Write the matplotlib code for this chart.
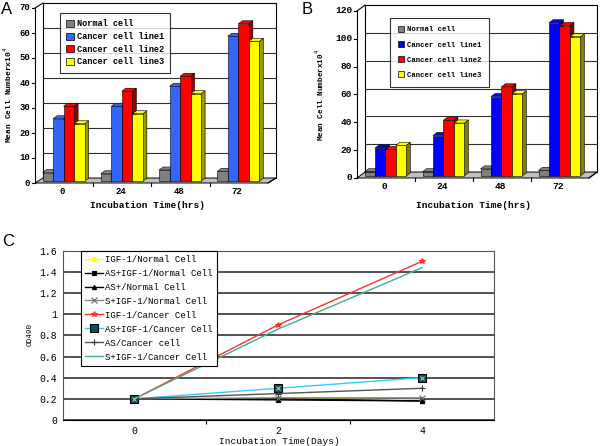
import matplotlib
matplotlib.use("Agg")
import matplotlib.pyplot as plt
from matplotlib.patches import Polygon, Rectangle

# ---- data ----
times = ["0", "24", "48", "72"]
series_names = ["Normal cell", "Cancer cell line1", "Cancer cell line2", "Cancer cell line3"]

a_normal = [3.5, 3, 4.5, 4]
a_line1 = [25, 30, 38, 58]
a_line2 = [30, 36, 42, 63]
a_line3 = [23, 27, 35, 56]

b_normal = [3, 3, 5, 4]
b_line1 = [20, 29, 57, 110]
b_line2 = [19, 40, 64, 108]
b_line3 = [22, 38, 59, 100]

days = [0, 2, 4]
c_labels = ["IGF-1/Normal Cell", "AS+IGF-1/Normal Cell", "AS+/Normal Cell",
            "S+IGF-1/Normal Cell", "IGF-1/Cancer Cell", "AS+IGF-1/Cancer Cell",
            "AS/Cancer cell", "S+IGF-1/Cancer Cell"]
igf_normal = [0.2, 0.2, 0.19]
as_igf_normal = [0.2, 0.19, 0.18]
as_normal = [0.2, 0.2, 0.18]
s_igf_normal = [0.2, 0.21, 0.21]
igf_cancer = [0.2, 0.9, 1.5]
as_igf_cancer = [0.2, 0.3, 0.4]
as_cancer = [0.2, 0.25, 0.3]
s_igf_cancer = [0.2, 0.86, 1.44]

MONO = "Liberation Mono"
W, H = 600, 446

fig = plt.figure(figsize=(6, 4.46), dpi=100)


def fx(x, y):
    return x / W, 1 - y / H


def bar_panel(rect, data, fronts, sides, ymax, ystep, dx, dy, bdx, bdy,
              px_per_unit, tick_fs, legend_pos, legend_fs, legend_spacing, legend_pad):
    ax = fig.add_axes(rect)
    n = len(times)
    ytop = ymax + dy
    ax.set_xlim(0, n + dx)
    ax.set_ylim(0, ytop)
    ax.axis("off")
    kw = dict(clip_on=False)
    # floor
    ax.add_patch(Polygon([(0, 0), (n, 0), (n + dx, dy), (dx, dy)], closed=True,
                         fc="#c0c0c0", ec="black", lw=0.7, **kw))
    # back wall
    ax.plot([dx, dx, n + dx, n + dx], [dy, ytop, ytop, dy], color="black", lw=0.8, **kw)
    for v in range(ystep, ymax, ystep):
        ax.plot([dx, n + dx], [v + dy, v + dy], color="#303030", lw=0.8, **kw)
    # front axis with side wall lines
    ax.plot([0, 0], [0, ymax], color="black", lw=0.8, **kw)
    ax.plot([0, dx], [ymax, ytop], color="black", lw=0.8, **kw)
    ax.plot([n, n + dx], [0, dy], color="black", lw=0.8, **kw)
    for v in range(0, ymax + 1, ystep):
        ax.plot([-0.05, 0], [v, v], color="black", lw=0.8, **kw)
        ax.text(-0.08, v, str(v), ha="right", va="center", fontsize=tick_fs,
                family=MONO, weight="bold")
    for i in range(1, n):
        ax.plot([i, i], [0, -3 / px_per_unit], color="black", lw=0.8, **kw)
    # bars
    sy = dy * 0.35
    bw = 0.18
    z = 3
    for i in range(n):
        for k, vals in enumerate(data):
            v = vals[i]
            x0 = i + 0.13 + k * bw
            x1 = x0 + bw
            top = sy + v
            ax.add_patch(Polygon([(x1, sy), (x1 + bdx, sy + bdy), (x1 + bdx, top + bdy), (x1, top)],
                                 closed=True, fc=sides[k], ec="black", lw=0.4, zorder=z, **kw))
            ax.add_patch(Polygon([(x0, top), (x1, top), (x1 + bdx, top + bdy), (x0 + bdx, top + bdy)],
                                 closed=True, fc=fronts[k], ec="black", lw=0.4, zorder=z, **kw))
            ax.add_patch(Rectangle((x0, sy), bw, v, fc=fronts[k], ec="black", lw=0.4,
                                   zorder=z, **kw))
            z += 1
        ax.text(i + 0.47, -9 / px_per_unit, times[i], ha="center", va="center",
                fontsize=tick_fs, family=MONO, weight="bold")
    handles = [Rectangle((0, 0), 1, 1, fc=fronts[k], ec="black", lw=0.5) for k in range(4)]
    leg = ax.legend(handles, series_names, loc="upper left", bbox_to_anchor=legend_pos,
                    bbox_transform=fig.transFigure, borderaxespad=0, fancybox=False,
                    handlelength=0.9, handleheight=0.9, handletextpad=0.3,
                    labelspacing=legend_spacing, borderpad=legend_pad,
                    prop=dict(family=MONO, weight="bold", size=legend_fs))
    leg.get_frame().set_edgecolor("black")
    leg.get_frame().set_linewidth(0.8)
    leg.set_zorder(100)
    return ax


# Panel A
bar_panel([35 / W, (H - 183) / H, 4.137 * 58.25 / W, 180 / H],
          [a_normal, a_line1, a_line2, a_line3],
          ["#808080", "#3366ff", "#ff0000", "#ffff00"],
          ["#404040", "#1a3399", "#990000", "#999900"],
          70, 10, 0.137, 2.0, 0.07, 1.2, 2.5, 6.5, fx(60, 13), 6.2, 0.42, 0.75)
fig.text(*fx(8, 95), "Mean Cell Numberx10$^4$", rotation=90, ha="center", va="center",
         fontsize=5.8, family=MONO, weight="bold")
fig.text(*fx(147, 206), "Incubation Time(hrs)", ha="center", va="center",
         fontsize=6.8, family=MONO, weight="bold")
fig.text(*fx(1, 10), "A", ha="left", va="center", fontsize=12, family="Liberation Sans")

# Panel B
bar_panel([357 / W, (H - 178) / H, 4.14 * 58 / W, 173 / H],
          [b_normal, b_line1, b_line2, b_line3],
          ["#808080", "#0000ff", "#ff0000", "#ffff00"],
          ["#404040", "#000080", "#800000", "#808000"],
          120, 20, 0.14, 4.3, 0.07, 2.2, 1.392, 6.8, fx(390, 18), 5.2, 1.05, 1.1)
fig.text(*fx(320, 95), "Mean Cell Numberx10$^4$", rotation=90, ha="center", va="center",
         fontsize=5.5, family=MONO, weight="bold")
fig.text(*fx(473, 205), "Incubation Time(hrs)", ha="center", va="center",
         fontsize=6.8, family=MONO, weight="bold")
fig.text(*fx(302, 10), "B", ha="left", va="center", fontsize=12, family="Liberation Sans")

# Panel C
axc = fig.add_axes([62.5 / W, (H - 420) / H, 431.5 / W, 169.3 / H])
axc.set_xlim(-1, 5)
axc.set_ylim(0, 1.6)
yt = [0, 0.2, 0.4, 0.6, 0.8, 1.0, 1.2, 1.4, 1.6]
axc.set_yticks(yt)
axc.set_yticklabels(["0", "0.2", "0.4", "0.6", "0.8", "1", "1.2", "1.4", "1.6"],
                    family=MONO, fontsize=7)
axc.set_xticks(days)
axc.set_xticklabels([str(d) for d in days], family=MONO, fontsize=7)
axc.set_xticks([1, 3], minor=True)
axc.tick_params(axis="both", which="major", length=0, pad=4)
axc.tick_params(axis="x", which="minor", length=3, width=0.8)
axc.grid(axis="y", color="#333333", lw=1.2)
axc.set_axisbelow(True)
for s in axc.spines.values():
    s.set_color("#555555")
    s.set_linewidth(0.8)
axc.spines["bottom"].set_color("black")

styles = [
    (igf_normal, "#ffff00", "D", 2.5, "#ffff00"),
    (as_igf_normal, "black", "s", 2.5, "black"),
    (as_normal, "black", "^", 3, "black"),
    (s_igf_normal, "#888888", "x", 4, "#666666"),
    (igf_cancer, "#ff3030", "*", 4, "#ff3030"),
    (as_igf_cancer, "#33ccff", "s", 6, "#0d4f5a"),
    (as_cancer, "#555555", "+", 5, "#333333"),
    (s_igf_cancer, "#40b088", None, 0, "#40b088"),
]
for (vals, col, mk, ms, mc), lab in zip(styles, c_labels):
    axc.plot(days, vals, color=col, lw=1.0, marker=mk, markersize=ms,
             markerfacecolor=mc, markeredgecolor="black" if mk == "s" and ms > 5 else mc,
             markeredgewidth=0.8, label=lab)
axc.plot(days, as_igf_cancer, ls="none", marker="x", markersize=3, color="#9fd8e0", mew=0.7)

legc = axc.legend(loc="upper left", bbox_to_anchor=fx(80.5, 250.7), bbox_transform=fig.transFigure,
                  borderaxespad=0, fancybox=False, handlelength=2.0, handletextpad=0.3,
                  labelspacing=0.55, borderpad=0.45, prop=dict(family=MONO, size=6.5))
legc.get_frame().set_edgecolor("black")
legc.get_frame().set_linewidth(0.8)
legc.get_frame().set_alpha(1)

fig.text(*fx(30, 334), "OD490", rotation=90, ha="center", va="center", fontsize=5.5,
         family=MONO)
fig.text(*fx(279, 441), "Incubation Time(Days)", ha="center", va="center", fontsize=6.8,
         family=MONO)
fig.text(*fx(2, 242), "C", ha="left", va="center", fontsize=12, family="Liberation Sans")

fig.savefig("out.png", dpi=100)
